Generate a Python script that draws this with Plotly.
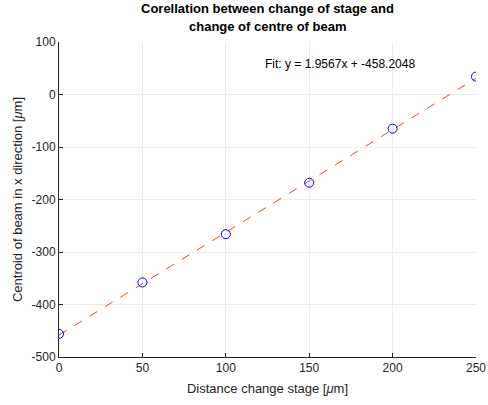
import plotly.graph_objects as go

stage = [0, 50, 100, 150, 200, 250]
centroid = [-456, -358, -266, -168, -65, 34]
fit_slope = 1.9567
fit_intercept = -458.2048
fit_x = [0, 250]
fit_y = [fit_slope * v + fit_intercept for v in fit_x]
x_ticks = [0, 50, 100, 150, 200, 250]
y_ticks = [-500, -400, -300, -200, -100, 0, 100]
y_tick_text = ["-500", "-400", "-300", "-200", "-100", "0", "100"]

font = "Liberation Sans, Arial, sans-serif"
fig = go.Figure()
fig.add_trace(go.Scatter(x=fit_x, y=fit_y, mode="lines",
                         line=dict(color="#D95319", width=1, dash="dash"),
                         showlegend=False))
fig.add_trace(go.Scatter(x=stage, y=centroid, mode="markers",
                         marker=dict(symbol="circle-open", size=9, color="#0000FF",
                                     line=dict(width=1)),
                         showlegend=False))
fig.add_annotation(x=122, y=58, xref="x", yref="y", xanchor="left", yanchor="middle",
                   text="Fit: y = 1.9567x + -458.2048", showarrow=False,
                   font=dict(size=12, color="#000000", family=font))
for txt, py in [("<b>Corellation between change of stage and</b>", 1.105),
                ("<b>change of centre of beam</b>", 1.05)]:
    fig.add_annotation(x=0.5, y=py, xref="paper", yref="paper", xanchor="center",
                       yanchor="middle", text=txt, showarrow=False,
                       font=dict(size=13, color="#000000", family=font))
fig.update_layout(
    width=488, height=405,
    margin=dict(l=59, r=12, t=42, b=48, autoexpand=False),
    paper_bgcolor="white", plot_bgcolor="white",
    font=dict(family=font, color="#262626"),
    xaxis=dict(range=[0, 250], tickvals=x_ticks, showgrid=True, gridcolor="#EBEBEB",
               showline=True, linecolor="#262626", linewidth=1, ticks="inside", ticklen=4,
               tickcolor="#262626", zeroline=False, tickfont=dict(size=12),
               title=dict(text="Distance change stage [<i>μ</i>m]", font=dict(size=13), standoff=9)),
    yaxis=dict(range=[-500, 100], tickvals=y_ticks, ticktext=y_tick_text, showgrid=True,
               gridcolor="#EBEBEB",
               showline=True, linecolor="#262626", linewidth=1, ticks="inside", ticklen=4,
               tickcolor="#262626", zeroline=False, tickfont=dict(size=12),
               title=dict(text="Centroid of beam in x direction [<i>μ</i>m]", font=dict(size=13), standoff=6)),
)
fig.write_html("out.html")
